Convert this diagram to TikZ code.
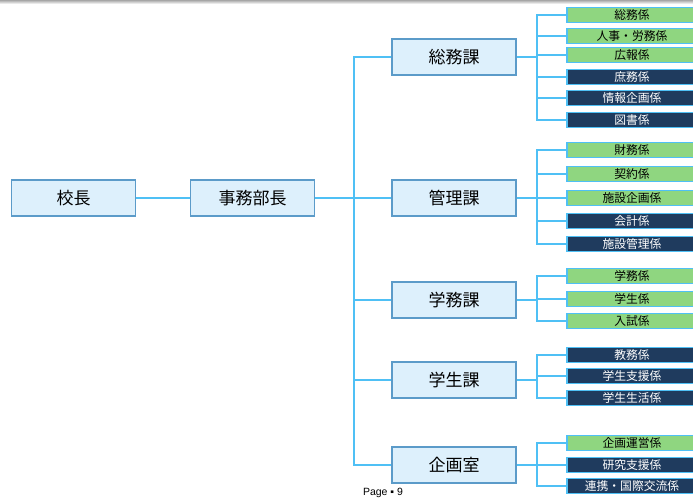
\documentclass[tikz,border=0pt]{standalone}
\usepackage{fontspec}
\setmainfont{Noto Sans CJK JP}
\newfontfamily\pagefont{Liberation Sans}
\usepackage{tikz}
\usetikzlibrary{positioning}
\definecolor{boxfill}{HTML}{DDF0FC}
\definecolor{boxdraw}{HTML}{5B9BC9}
\definecolor{linkc}{HTML}{4FC0F5}
\definecolor{grnfill}{HTML}{8FD680}
\definecolor{nvyfill}{HTML}{1F3B5E}

\begin{document}
\begin{tikzpicture}[
			x=1pt, y=-1pt,
			sect/.style = {draw=boxdraw, fill=boxfill, line width=1.2pt, minimum width=124pt, minimum height=36pt, inner sep=0pt, font=\fontsize{17}{17}\selectfont},
			grn/.style = {draw=linkc, fill=grnfill, line width=1.6pt, minimum width=130pt, minimum height=15pt, inner sep=0pt, font=\fontsize{11.8}{12}\selectfont},
			nvy/.style = {grn, fill=nvyfill, text=white},
			link/.style = {draw=linkc, line width=2.6pt}
		]
		\useasboundingbox (0,0) rectangle (693,498);
		\clip (0,0) rectangle (693,498);
		\shade[top color=gray!70, bottom color=white] (0,0) rectangle (693,4);
		% Left.
		\node[sect] (k) at (73.5,198) {校長};
		\node[sect, right=54pt of k] (j) {事務部長};
		% Sections.
		\node[sect] (s1) at (454,57) {総務課};
		\node[sect] (s2) at (454,198) {管理課};
		\node[sect] (s3) at (454,300) {学務課};
		\node[sect] (s4) at (454,380) {学生課};
		\node[sect] (s5) at (454,465) {企画室};
		% Sub units.
		\node[grn] (s1a) at (632,15) {総務係};
		\node[grn] (s1b) at (632,36) {人事・労務係};
		\node[grn] (s1c) at (632,55) {広報係};
		\node[nvy] (s1d) at (632,77) {庶務係};
		\node[nvy] (s1e) at (632,98) {情報企画係};
		\node[nvy] (s1f) at (632,120) {図書係};
		\node[grn] (s2a) at (632,150) {財務係};
		\node[grn] (s2b) at (632,174) {契約係};
		\node[grn] (s2c) at (632,198) {施設企画係};
		\node[nvy] (s2d) at (632,221) {会計係};
		\node[nvy] (s2e) at (632,244) {施設管理係};
		\node[grn] (s3a) at (632,276) {学務係};
		\node[grn] (s3b) at (632,299) {学生係};
		\node[grn] (s3c) at (632,321) {入試係};
		\node[nvy] (s4a) at (632,355) {教務係};
		\node[nvy] (s4b) at (632,376) {学生支援係};
		\node[nvy] (s4c) at (632,398) {学生生活係};
		\node[grn] (s5a) at (632,443) {企画運営係};
		\node[nvy] (s5b) at (632,465) {研究支援係};
		\node[nvy] (s5c) at (632,486) {連携・国際交流係};
		\node[font=\pagefont\fontsize{10.5}{11}\selectfont] (pg) at (383,493) {Page ▪ 9};

		% Joints.
		\coordinate (t) at (354,198);
		\coordinate (b1) at (537,57);
		\coordinate (b2) at (537,198);
		\coordinate (b3) at (537,300);
		\coordinate (b4) at (537,380);
		\coordinate (b5) at (537,465);

		\draw[link, line width=2pt] (k) to (j);
		\draw[link] (j) to (t);
		\foreach \s in {s1,s2,s3,s4,s5}
			\draw[link] (t) |- (\s.west);
		\foreach \b/\s in {b1/s1,b2/s2,b3/s3,b4/s4,b5/s5}
			\draw[link] (\s.east) -- (\b);
		\foreach \x in {s1a,s1b,s1c,s1d,s1e,s1f}
			\draw[link] (b1) |- (\x.west);
		\foreach \x in {s2a,s2b,s2c,s2d,s2e}
			\draw[link] (b2) |- (\x.west);
		\foreach \x in {s3a,s3b,s3c}
			\draw[link] (b3) |- (\x.west);
		\foreach \x in {s4a,s4b,s4c}
			\draw[link] (b4) |- (\x.west);
		\foreach \x in {s5a,s5b,s5c}
			\draw[link] (b5) |- (\x.west);
	\end{tikzpicture}
\end{document}
